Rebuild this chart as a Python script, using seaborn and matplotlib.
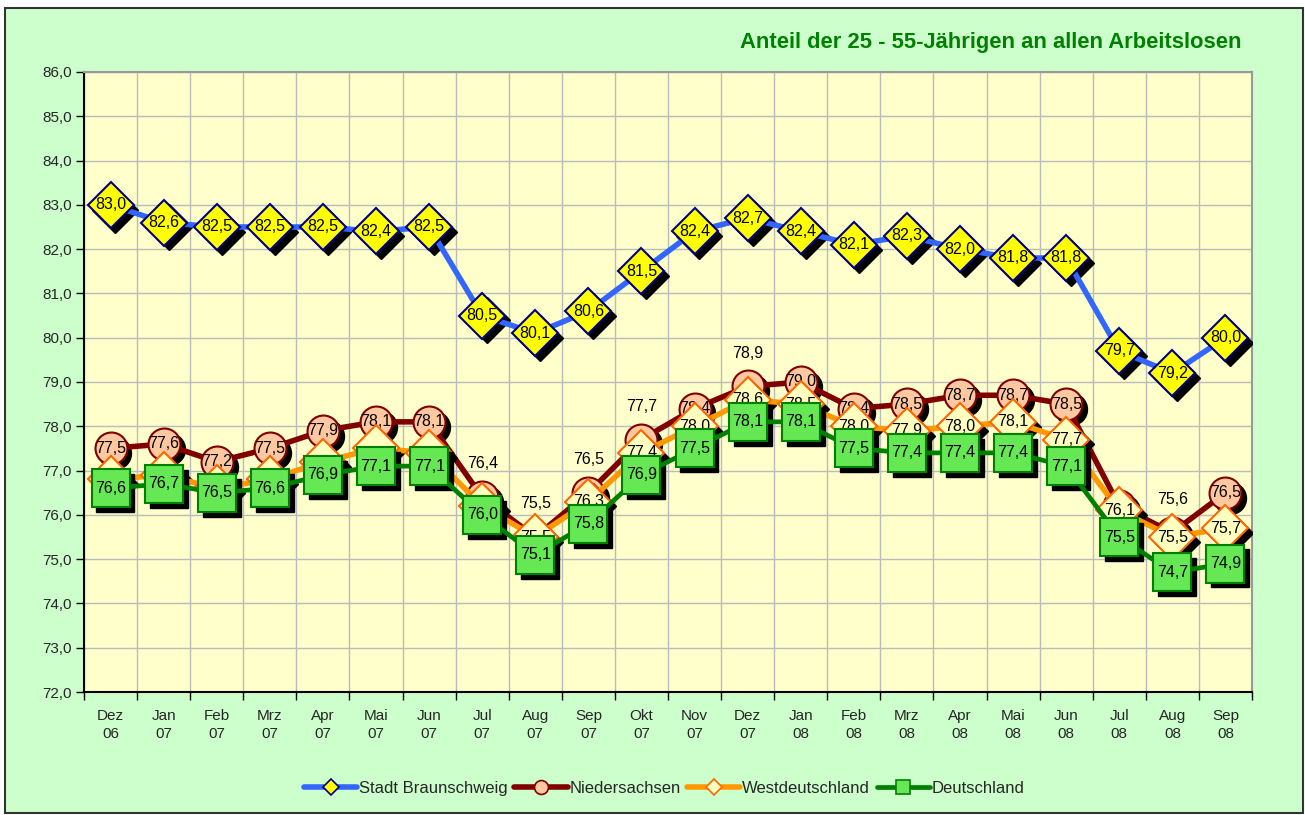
import matplotlib
matplotlib.use('Agg')
import matplotlib.pyplot as plt
import matplotlib.transforms as mtransforms
from matplotlib.patches import Rectangle
from matplotlib.lines import Line2D
from matplotlib.ticker import FuncFormatter
import seaborn as sns
import numpy as np

months = ['Dez', 'Jan', 'Feb', 'Mrz', 'Apr', 'Mai', 'Jun', 'Jul', 'Aug', 'Sep', 'Okt',
          'Nov', 'Dez', 'Jan', 'Feb', 'Mrz', 'Apr', 'Mai', 'Jun', 'Jul', 'Aug', 'Sep']
years = ['06', '07', '07', '07', '07', '07', '07', '07', '07', '07', '07',
         '07', '07', '08', '08', '08', '08', '08', '08', '08', '08', '08']

braunschweig = [83.0, 82.6, 82.5, 82.5, 82.5, 82.4, 82.5, 80.5, 80.1, 80.6, 81.5,
                82.4, 82.7, 82.4, 82.1, 82.3, 82.0, 81.8, 81.8, 79.7, 79.2, 80.0]
niedersachsen = [77.5, 77.6, 77.2, 77.5, 77.9, 78.1, 78.1, 76.4, 75.5, 76.5, 77.7,
                 78.4, 78.9, 79.0, 78.4, 78.5, 78.7, 78.7, 78.5, 76.2, 75.6, 76.5]
westdeutschland = [76.8, 76.9, 76.6, 76.8, 77.2, 77.5, 77.4, 76.2, 75.5, 76.3, 77.4,
                   78.0, 78.6, 78.5, 78.0, 77.9, 78.0, 78.1, 77.7, 76.1, 75.5, 75.7]
deutschland = [76.6, 76.7, 76.5, 76.6, 76.9, 77.1, 77.1, 76.0, 75.1, 75.8, 76.9,
               77.5, 78.1, 78.1, 77.5, 77.4, 77.4, 77.4, 77.1, 75.5, 74.7, 74.9]

# labels of Niedersachsen moved above the marker, and labels not shown at all
nds_raised = [7, 8, 9, 10, 12, 20]
hidden = {'Niedersachsen': [19], 'Westdeutschland': [0, 1, 2, 3, 4, 5, 6, 7]}

sns.set_style('white')
plt.rcParams['font.family'] = ['Liberation Sans', 'DejaVu Sans']

fig = plt.figure(figsize=(13.05, 8.15), dpi=100)
fig.patch.set_facecolor('white')
fig.patches.append(Rectangle((5 / 1305, 2 / 815), 1298 / 1305, 805 / 815, transform=fig.transFigure,
                             facecolor='#CCFFCC', edgecolor='#333333', lw=1.5, zorder=-10))
ax = fig.add_axes([0.0644, 0.1509, 0.895, 0.7608])
ax.set_facecolor('#FFFFCC')

x = np.arange(len(months))

series = [
    ('Stadt Braunschweig', braunschweig, dict(color='#3366FF', marker='D', ms=23, mfc='#FFFF00', mec='#000080', lw=4)),
    ('Niedersachsen', niedersachsen, dict(color='#800000', marker='o', ms=23, mfc='#FFC8A0', mec='#800000', lw=4)),
    ('Westdeutschland', westdeutschland, dict(color='#FF9900', marker='D', ms=23.5, mfc='#FFFFC0', mec='#FF6600', lw=4)),
    ('Deutschland', deutschland, dict(color='#008000', marker='s', ms=27, mfc='#66E855', mec='#008000', lw=3.4)),
]

shadow_tr = ax.transData + mtransforms.ScaledTranslation(3.5 / 72, -3.5 / 72, fig.dpi_scale_trans)
handles = []
for i, (name, vals, st) in enumerate(series):
    z = 3 + i * 3
    ax.plot(x, vals, ls='none', marker=st['marker'], ms=st['ms'], color='black',
            mec='black', transform=shadow_tr, zorder=z)
    sns.lineplot(x=x, y=vals, ax=ax, color=st['color'], lw=st['lw'], marker=st['marker'],
                 markersize=st['ms'], markerfacecolor=st['mfc'], markeredgecolor=st['mec'],
                 markeredgewidth=1.5, zorder=z + 1, legend=False)
    for j, v in enumerate(vals):
        if j in hidden.get(name, []):
            continue
        dy = 24 if (name == 'Niedersachsen' and j in nds_raised) else 0
        ax.annotate(f'{v:.1f}'.replace('.', ','), (j, v), xytext=(0, dy), textcoords='offset points',
                    ha='center', va='center', fontsize=11.5, color='black', zorder=z + 2)
    handles.append(Line2D([], [], color=st['color'], lw=st['lw'], marker=st['marker'],
                          ms=10 if st['marker'] != 'D' else 8, mfc=st['mfc'], mec=st['mec'], mew=1.2))

ax.set_xlim(-0.5, len(months) - 0.5)
ax.set_ylim(72, 86)
ax.set_yticks(np.arange(72, 87, 1))
ax.yaxis.set_major_formatter(FuncFormatter(lambda v, p: f'{v:.1f}'.replace('.', ',')))
ax.set_xticks(x)
ax.set_xticklabels([f'{m}\n{y}' for m, y in zip(months, years)], fontsize=11, linespacing=1.4)
ax.set_xticks(np.arange(-0.5, len(months), 1), minor=True)
ax.tick_params(axis='x', which='major', length=0, pad=12)
ax.tick_params(axis='x', which='minor', length=6, width=1, direction='out', color='black', bottom=True)
ax.tick_params(axis='y', which='major', length=6, width=1, direction='out', color='black', left=True,
               labelsize=11, pad=3)
ax.grid(which='minor', axis='x', color='#BBBBBB', lw=1)
ax.grid(which='major', axis='y', color='#BBBBBB', lw=1)
ax.set_axisbelow(True)
for s in ['left', 'bottom']:
    ax.spines[s].set_color('black')
    ax.spines[s].set_linewidth(1.5)
for s in ['top', 'right']:
    ax.spines[s].set_color('#999999')
    ax.spines[s].set_linewidth(1.5)

fig.text(0.951, 0.948, 'Anteil der 25 - 55-Jährigen an allen Arbeitslosen', ha='right', va='center',
         color='#008000', fontsize=15.8, fontweight='bold')

fig.legend(handles, [s[0] for s in series], loc='center', bbox_to_anchor=(0.509, 0.033), ncol=4,
           frameon=False, fontsize=12, handlelength=3.2, handletextpad=0.1, columnspacing=0.4)

fig.savefig('out.png', dpi=100)
